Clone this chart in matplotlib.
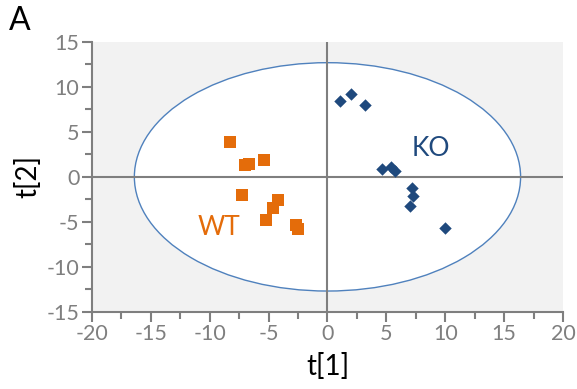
import matplotlib.pyplot as plt
from matplotlib.patches import Ellipse

plt.rcParams['font.family'] = ['Lato', 'DejaVu Sans']
plt.rcParams['axes.unicode_minus'] = False

wt_x = [-8.3, -7.0, -6.7, -5.4, -7.3, -4.2, -4.6, -5.2, -2.7, -2.5]
wt_y = [3.9, 1.3, 1.4, 1.9, -2.0, -2.6, -3.5, -4.8, -5.3, -5.8]
ko_x = [1.1, 2.0, 3.2, 4.6, 5.4, 5.7, 7.2, 7.3, 7.0, 10.0]
ko_y = [8.4, 9.2, 8.0, 0.9, 1.1, 0.7, -1.2, -2.1, -3.2, -5.7]

ell_w = 32.8
ell_h = 25.4

gray = '#7f7f7f'
orange = '#e46c0a'
blue = '#1f497d'

fig = plt.figure(figsize=(5.77, 3.89), dpi=100)
ax = fig.add_axes([0.1594, 0.1987, 0.8163, 0.6933])
ax.set_facecolor('#f2f2f2')

ax.add_patch(Ellipse((0, 0), ell_w, ell_h, facecolor='white',
                     edgecolor='#4f81bd', lw=1, zorder=1))
ax.axhline(0, color=gray, lw=1.5, zorder=2)
ax.axvline(0, color=gray, lw=1.5, zorder=2)

ax.scatter(wt_x, wt_y, marker='s', s=70, color=orange, zorder=3, linewidths=0)
ax.scatter(ko_x, ko_y, marker='D', s=40, color=blue, zorder=3, linewidths=0)

ax.text(-9.2, -5.6, 'WT', color=orange, fontsize=19, ha='center', va='center')
ax.text(8.8, 3.1, 'KO', color=blue, fontsize=19, ha='center', va='center')

ax.set_xlim(-20, 20)
ax.set_ylim(-15, 15)
ax.set_xticks(range(-20, 21, 5))
ax.set_yticks(range(-15, 16, 5))
ax.set_xticks([x + 2.5 for x in range(-20, 20, 5)], minor=True)
ax.set_yticks([y + 2.5 for y in range(-15, 15, 5)], minor=True)

for s in ['top', 'right']:
    ax.spines[s].set_visible(False)
for s in ['left', 'bottom']:
    ax.spines[s].set_color(gray)
    ax.spines[s].set_linewidth(1.5)
ax.tick_params(which='both', direction='out', color=gray, width=1.5, labelcolor=gray, labelsize=15.5)
ax.tick_params(which='major', length=7, pad=2)
ax.tick_params(which='minor', length=5)

ax.set_xlabel('t[1]', fontsize=20, labelpad=6)
ax.set_ylabel('t[2]', fontsize=20, labelpad=4)

fig.text(0.015, 0.945, 'A', fontsize=23, ha='left', va='center')

fig.savefig('out.png', dpi=100)
